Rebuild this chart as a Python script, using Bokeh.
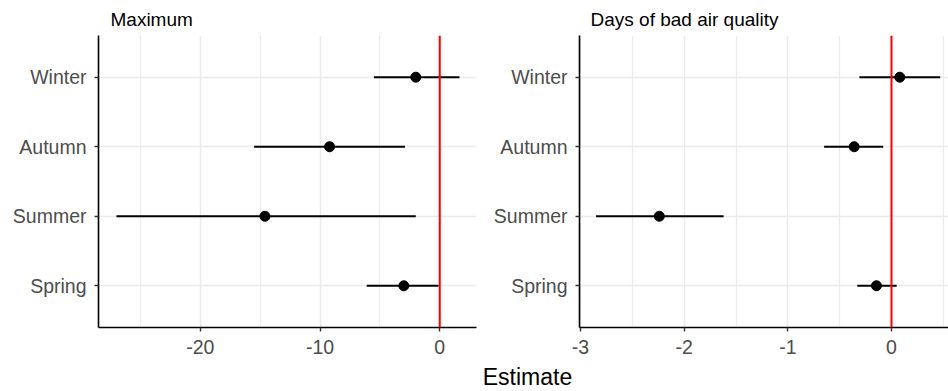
from bokeh.plotting import figure
from bokeh.layouts import row, column
from bokeh.models import FactorRange, Range1d, FixedTicker, Span, Label, ColumnDataSource
from bokeh.embed import file_html
from bokeh.resources import INLINE

seasons = ["Spring", "Summer", "Autumn", "Winter"]

max_est = [-3.0, -14.6, -9.2, -2.0]
max_lo = [-6.1, -27.0, -15.5, -5.5]
max_hi = [-0.1, -2.0, -2.9, 1.65]

bad_est = [-0.145, -2.24, -0.36, 0.08]
bad_lo = [-0.33, -2.85, -0.65, -0.31]
bad_hi = [0.05, -1.62, -0.08, 0.47]

max_ticks = [-20, -10, 0]
max_minor = [-25, -15, -5]
bad_ticks = [-3, -2, -1, 0]
bad_minor = [-2.5, -1.5, -0.5, 0.5]

FONT = "Liberation Sans"


def panel(title, est, lo, hi, xr, ticks, minor, width, bl, br, toff):
    p = figure(width=width, height=361, output_backend="svg", toolbar_location=None,
               x_range=Range1d(*xr),
               y_range=FactorRange(factors=seasons, range_padding=0.1, range_padding_units="absolute"),
               min_border_left=bl, min_border_right=br, min_border_top=35, min_border_bottom=34)
    p.title.text = title
    p.title.align = "left"
    p.title.offset = toff
    p.title.standoff = 12
    p.title.text_font = FONT
    p.title.text_font_style = "normal"
    p.title.text_font_size = "19px"
    p.title.text_color = "black"
    p.outline_line_color = None
    p.background_fill_color = "white"
    p.border_fill_color = "white"

    p.xaxis.ticker = FixedTicker(ticks=ticks, minor_ticks=minor)
    p.xaxis.major_label_overrides = {t: str(t) for t in ticks}
    p.xgrid.grid_line_color = "#EBEBEB"
    p.xgrid.grid_line_width = 1.5
    p.xgrid.minor_grid_line_color = "#EBEBEB"
    p.xgrid.minor_grid_line_width = 1.2
    p.ygrid.grid_line_color = "#EBEBEB"
    p.ygrid.grid_line_width = 1.5

    for ax in (p.xaxis, p.yaxis):
        ax.axis_line_color = "black"
        ax.axis_line_width = 1.6
        ax.major_tick_line_color = "#333333"
        ax.major_tick_line_width = 1.4
        ax.major_tick_out = 4
        ax.major_tick_in = 0
        ax.minor_tick_line_color = None
        ax.major_label_text_font = FONT
        ax.major_label_text_font_size = "19.5px"
        ax.major_label_text_color = "#4D4D4D"
    p.xaxis.major_label_standoff = 8
    p.yaxis.major_label_standoff = 8

    src = ColumnDataSource(dict(s=seasons, est=est, lo=lo, hi=hi))
    p.segment(x0="lo", x1="hi", y0="s", y1="s", source=src, line_color="black", line_width=2)
    p.scatter(x="est", y="s", source=src, size=10, fill_color="black", line_color="black")
    p.add_layout(Span(location=0, dimension="height", line_color="red", line_width=2))
    return p


p1 = panel("Maximum", max_est, max_lo, max_hi, (-28.5, 3.07), max_ticks, max_minor, 478, 98, 2, 12)
p2 = panel("Days of bad air quality", bad_est, bad_lo, bad_hi, (-3.01, 0.55), bad_ticks, bad_minor, 470, 101, 0, 11)

p3 = figure(width=948, height=30, output_backend="svg", toolbar_location=None,
            x_range=Range1d(0, 948), y_range=Range1d(0, 30),
            min_border=0, min_border_left=0, min_border_right=0, min_border_top=0, min_border_bottom=0)
p3.axis.visible = False
p3.grid.visible = False
p3.outline_line_color = None
p3.add_layout(Label(x=527, y=15, text="Estimate",
                    text_font=FONT, text_font_size="23px", text_color="black",
                    text_align="center", text_baseline="middle"))

layout = column(row(p1, p2), p3)
open("out.html", "w").write(file_html(layout, INLINE))
